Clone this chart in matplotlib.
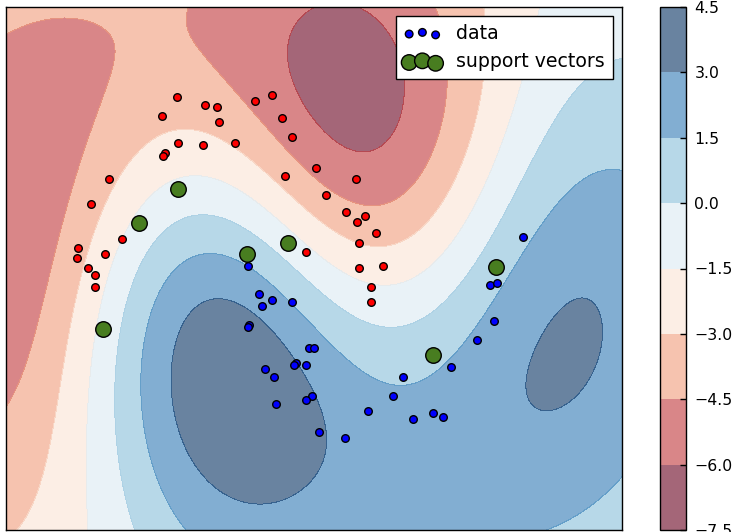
import numpy as np
import matplotlib
matplotlib.use('Agg')
import matplotlib.pyplot as plt
from matplotlib.colors import Normalize

# ---- data points (two moons) ----
red_x = [-0.39, -0.49, -0.21, -0.13, -0.12, 0.12, 0.23, 0.29, 0.36, -0.38, -0.22, -0.01,
         -0.47, -0.48, -0.83, 0.31, 0.51, 0.77, -0.95, 0.58, 0.71, 0.78, 0.83, 0.79,
         -0.75, -1.03, -1.04, -0.86, 0.45, -0.97, 0.79, -0.92, -0.92, 0.95, 0.87, 0.87, 0.90]
red_y = [1.07, 0.98, 1.03, 1.02, 0.95, 1.05, 1.08, 0.97, 0.88, 0.85, 0.84, 0.85,
         0.80, 0.79, 0.68, 0.69, 0.73, 0.68, 0.56, 0.60, 0.52, 0.47, 0.50, 0.37,
         0.39, 0.35, 0.30, 0.32, 0.33, 0.25, 0.25, 0.22, 0.16, 0.26, 0.16, 0.09, 0.42]
blue_x = [0.07, 0.14, 0.23, 0.16, 0.36, 0.08, 0.07, 0.47, 0.50, 0.38, 0.37, 0.45, 0.18,
          0.24, 0.49, 0.45, 0.25, 0.53, 0.70, 0.85, 1.64, 1.69, 1.67, 1.56, 1.39, 1.08,
          1.01, 1.14, 1.27, 1.34, 1.86]
blue_y = [0.26, 0.13, 0.10, 0.07, 0.09, -0.02, -0.03, -0.13, -0.13, -0.20, -0.21, -0.21, -0.23,
          -0.27, -0.36, -0.38, -0.40, -0.53, -0.56, -0.43, 0.17, 0.18, 0.00, -0.09, -0.22, -0.27,
          -0.36, -0.47, -0.44, -0.46, 0.40]

# ---- support vectors and RBF-SVM decision function parameters ----
sv_x = [-0.383, -0.636, -0.870, 0.331, 0.065, 1.273, 1.682]
sv_y = [0.630, 0.468, -0.039, 0.372, 0.319, -0.163, 0.257]
dual_coef = [-9.024, -9.036, -8.268, -78.732, 93.678, 4.016, 6.83]
intercept = -1.354
gamma = 0.5744
y_kernel_scale = 1.075

levels = [-7.5, -6.0, -4.5, -3.0, -1.5, 0.0, 1.5, 3.0, 4.5]
xlim = (-1.5, 2.5)
ylim = (-1.0, 1.5)

plt.rcParams['font.family'] = ['DejaVu Sans']

fig = plt.figure(figsize=(7.34, 5.32), dpi=100)
ax = fig.add_axes([6 / 734, 2 / 532, 616 / 734, 523 / 532])
cax = fig.add_axes([660 / 734, 2 / 532, 26 / 734, 523 / 532])

gx = np.linspace(xlim[0], xlim[1], 400)
gy = np.linspace(ylim[0], ylim[1], 350)
XX, YY = np.meshgrid(gx, gy)
Z = np.full(XX.shape, intercept, dtype=float)
for sx, sy, c in zip(sv_x, sv_y, dual_coef):
    Z += c * np.exp(-gamma * ((XX - sx) ** 2 + (y_kernel_scale * (YY - sy)) ** 2))

# colours sampled at band index (first band -> cmap start, last band -> cmap end)
band_mid = [(levels[i] + levels[i + 1]) / 2 for i in range(len(levels) - 1)]
cs = ax.contourf(XX, YY, Z, levels=levels, cmap='RdBu', alpha=0.6,
                 norm=Normalize(band_mid[0], band_mid[-1]))

ax.scatter(blue_x, blue_y, s=30, c='#0000ff', edgecolors='k', linewidths=1.0,
           label='data', zorder=3)
ax.scatter(red_x, red_y, s=30, c='#ff0000', edgecolors='k', linewidths=1.0,
           label='_nolegend_', zorder=3)
ax.scatter(sv_x, sv_y, s=125, c='#487d20', edgecolors='k', linewidths=1.0,
           label='support vectors', zorder=4)

ax.set_xlim(*xlim)
ax.set_ylim(*ylim)
ax.set_xticks([])
ax.set_yticks([])
for sp in ax.spines.values():
    sp.set_linewidth(1.0)
    sp.set_color('k')

leg = ax.legend(loc='upper right', scatterpoints=3, fontsize=13.6, fancybox=False,
                framealpha=1.0, edgecolor='k', borderpad=0.4, labelspacing=0.5,
                handlelength=2.0, handletextpad=0.8, borderaxespad=0.5)
leg.get_frame().set_linewidth(1.0)

cb = fig.colorbar(cs, cax=cax, ticks=levels)
cb.outline.set_linewidth(1.0)
cb.outline.set_edgecolor('k')
cax.tick_params(direction='in', length=4, width=1, labelsize=11.3, pad=6, color='k')

fig.savefig('out.png', dpi=100)
